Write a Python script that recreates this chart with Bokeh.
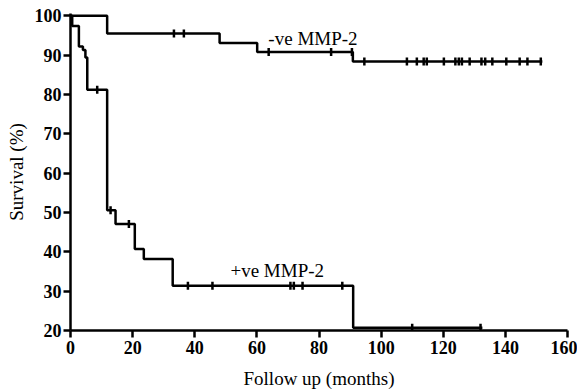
import numpy as np
from bokeh.plotting import figure
from bokeh.models import Range1d, Label, FixedTicker
from bokeh.embed import file_html
from bokeh.resources import INLINE

# +ve MMP-2 Kaplan-Meier steps (time in months, survival %)
pos_times = [0, 0.55, 2.7, 4.0, 4.8, 5.4, 11.8, 14.5, 20.7, 23.6, 32.9, 91.0, 132.6]
pos_surv = [100, 97.4, 92.2, 91.3, 89.4, 81.2, 50.6, 47.1, 40.7, 38.2, 31.4, 20.7, 20.7]
pos_cens_t = [8.6, 12.9, 18.8, 37.8, 45.7, 70.8, 71.9, 74.7, 87.5, 110.0, 132.0]

# -ve MMP-2
neg_times = [0, 11.8, 48.0, 60.1, 90.9, 151.9]
neg_surv = [100, 95.5, 93.1, 90.8, 88.4, 88.4]
neg_cens_t = [33.3, 36.5, 63.8, 83.9, 90.6, 94.6, 108.3, 111.5, 113.7, 114.7, 120.2,
              123.9, 125.0, 126.0, 128.5, 132.3, 133.5, 135.8, 140.3, 144.6, 147.1, 151.4]

x_ticks = [0, 20, 40, 60, 80, 100, 120, 140, 160]
y_ticks = [20, 30, 40, 50, 60, 70, 80, 90, 100]


def surv_at(times, surv, t):
    idx = np.searchsorted(np.array(times), t, side="right") - 1
    return [surv[i] for i in idx]


FONT = "Liberation Serif"

p = figure(width=577, height=391, output_backend="svg", toolbar_location=None,
           x_range=Range1d(0, 160), y_range=Range1d(20, 100.6),
           min_border_left=70, min_border_right=10, min_border_top=13, min_border_bottom=60)
p.outline_line_color = None
p.grid.visible = False
p.background_fill_color = "white"

for ax in (p.xaxis[0], p.yaxis[0]):
    ax.axis_line_width = 2.5
    ax.axis_line_color = "black"
    ax.major_tick_line_width = 2.5
    ax.major_tick_line_color = "black"
    ax.major_tick_out = 7
    ax.major_tick_in = 0
    ax.minor_tick_line_color = None
    ax.major_label_text_font = FONT
    ax.major_label_text_font_size = "18px"
    ax.major_label_text_font_style = "bold"
    ax.major_label_text_color = "black"
    ax.axis_label_text_font = FONT
    ax.axis_label_text_font_size = "19px"
    ax.axis_label_text_font_style = "normal"
    ax.axis_label_text_color = "black"

p.xaxis.ticker = FixedTicker(ticks=x_ticks)
p.yaxis.ticker = FixedTicker(ticks=y_ticks)
p.xaxis.axis_label = "Follow up (months)"
p.yaxis.axis_label = "Survival (%)"
p.xaxis.major_label_standoff = 3
p.xaxis.axis_label_standoff = 11
p.yaxis.major_label_standoff = 2
p.yaxis.axis_label_standoff = 5

p.step(neg_times, neg_surv, mode="after", line_color="black", line_width=2.5)
p.step(pos_times, pos_surv, mode="after", line_color="black", line_width=2.5)

p.dash(neg_cens_t, surv_at(neg_times, neg_surv, neg_cens_t), size=8, angle=np.pi / 2,
       line_color="black", line_width=2.5)
p.dash(pos_cens_t, surv_at(pos_times, pos_surv, pos_cens_t), size=8, angle=np.pi / 2,
       line_color="black", line_width=2.5)

p.add_layout(Label(x=63.7, y=94.2, text="-ve MMP-2", text_font=FONT, text_font_size="19px",
                   text_color="black", text_baseline="alphabetic"))
p.add_layout(Label(x=51.5, y=35.3, text="+ve MMP-2", text_font=FONT, text_font_size="19px",
                   text_color="black", text_baseline="alphabetic"))

open("out.html", "w").write(file_html(p, INLINE))
